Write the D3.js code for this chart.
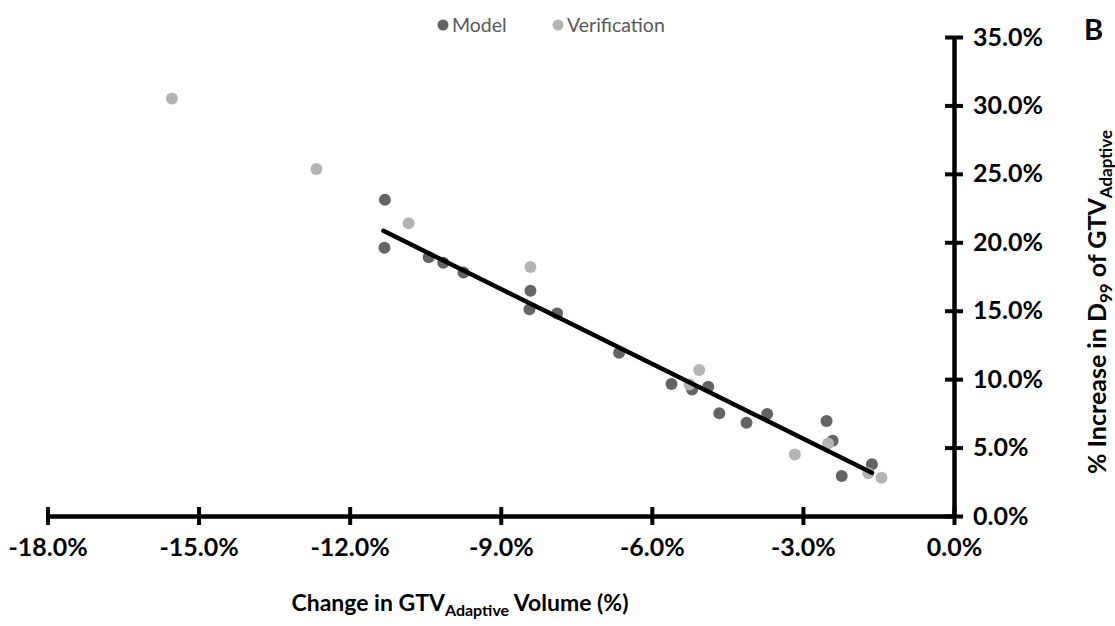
<!DOCTYPE html>
<html><head><meta charset="utf-8">
<script src="https://cdn.jsdelivr.net/npm/d3@7"></script>
<style>
html,body{margin:0;padding:0;background:#fff;}
svg text{font-family:Lato, "Open Sans", sans-serif;}
</style></head>
<body><svg id="chart" width="1115" height="626"></svg>
<script>
// Data (percent values)
const modelX = [-11.30, -11.31, -10.43, -10.14, -9.74, -8.41, -8.43, -7.88, -6.65, -5.61, -5.20, -4.88, -4.66, -4.12, -3.71, -2.53, -2.41, -2.23, -1.63];
const modelY = [23.1, 19.6, 18.9, 18.5, 17.8, 16.46, 15.1, 14.8, 11.93, 9.64, 9.25, 9.45, 7.5, 6.82, 7.45, 6.94, 5.5, 2.92, 3.78];
const verifX = [-15.53, -12.66, -10.83, -8.41, -5.06, -5.25, -3.16, -2.50, -1.70, -1.44];
const verifY = [30.5, 25.35, 21.4, 18.2, 10.66, 9.6, 4.5, 5.3, 3.12, 2.8];
const trendX = [-11.33, -1.63];
const trendY = [20.84, 3.16];
const xTicks = [-18, -15, -12, -9, -6, -3, 0];
const yTicks = [0, 5, 10, 15, 20, 25, 30, 35];
const seriesNames = ["Model", "Verification"];
const seriesColors = ["#646464", "#b4b4b4"];

const svg = d3.select("#chart");
const x = d3.scaleLinear().domain([-18, 0]).range([47.5, 954]);
const y = d3.scaleLinear().domain([0, 35]).range([516, 37]);
const fmt = d => d.toFixed(1) + "%";

// X axis
const gx = svg.append("g").attr("transform", `translate(0,${y(0)})`)
  .call(d3.axisBottom(x).tickValues(xTicks).tickFormat(fmt).tickSizeOuter(0).tickSizeInner(8).tickPadding(14));
gx.select(".domain").attr("stroke", "#000").attr("stroke-width", 4.5);
gx.selectAll(".tick line").attr("y1", -9).attr("y2", 9).attr("stroke", "#000").attr("stroke-width", 4);
gx.selectAll(".tick text").attr("font-size", 25).attr("font-weight", "bold").attr("fill", "#000")
  .attr("font-family", "Lato, sans-serif");

// Y axis
const gy = svg.append("g").attr("transform", `translate(${x(0)},0)`)
  .call(d3.axisRight(y).tickValues(yTicks).tickFormat(fmt).tickSizeOuter(0).tickSizeInner(8).tickPadding(11));
gy.select(".domain").attr("stroke", "#000").attr("stroke-width", 4.5);
gy.selectAll(".tick line").attr("x1", -9).attr("x2", 9).attr("stroke", "#000").attr("stroke-width", 4);
gy.selectAll(".tick text").attr("font-size", 25).attr("font-weight", "bold").attr("fill", "#000")
  .attr("font-family", "Lato, sans-serif");

// Points
svg.append("g").selectAll("circle").data(modelX.map((d, i) => [d, modelY[i]])).join("circle")
  .attr("cx", d => x(d[0])).attr("cy", d => y(d[1])).attr("r", 6).attr("fill", seriesColors[0]);
svg.append("g").selectAll("circle").data(verifX.map((d, i) => [d, verifY[i]])).join("circle")
  .attr("cx", d => x(d[0])).attr("cy", d => y(d[1])).attr("r", 6).attr("fill", seriesColors[1]);

// Trend line
svg.append("path").datum(trendX.map((d, i) => [d, trendY[i]]))
  .attr("d", d3.line().x(d => x(d[0])).y(d => y(d[1])))
  .attr("stroke", "#000").attr("stroke-width", 4.5).attr("stroke-linecap", "round").attr("fill", "none");

// Legend
const leg = svg.append("g");
const legPos = [[443, 452], [558, 567]];
seriesNames.forEach((n, i) => {
  leg.append("circle").attr("cx", legPos[i][0]).attr("cy", 25).attr("r", 5.5).attr("fill", seriesColors[i]);
  leg.append("text").attr("x", legPos[i][1]).attr("y", 32).attr("font-size", 19.5).attr("fill", "#595959").text(n);
});

// Panel label
svg.append("text").attr("x", 1084).attr("y", 40).attr("font-size", 29).attr("font-weight", "bold").text("B");

// X title
const xt = svg.append("text").attr("x", 460).attr("y", 611).attr("text-anchor", "middle")
  .attr("font-size", 23).attr("font-weight", "bold");
xt.append("tspan").text("Change in GTV");
xt.append("tspan").attr("font-size", 16).attr("dy", 5).text("Adaptive");
xt.append("tspan").attr("dy", -5).text(" Volume (%)");

// Y title
const yt = svg.append("text").attr("transform", "translate(1106,302) rotate(-90)").attr("text-anchor", "middle")
  .attr("font-size", 25).attr("font-weight", "bold");
yt.append("tspan").text("% Increase in D");
yt.append("tspan").attr("font-size", 17).attr("dy", 6).text("99");
yt.append("tspan").attr("dy", -6).text(" of GTV");
yt.append("tspan").attr("font-size", 17).attr("dy", 6).text("Adaptive");
</script></body></html>
